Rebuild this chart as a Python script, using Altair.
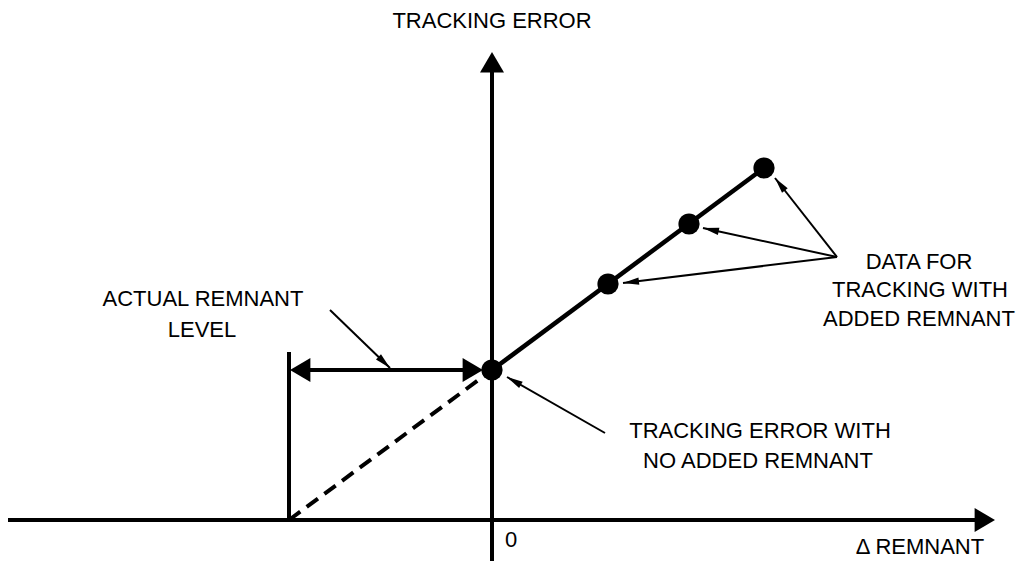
import math
import altair as alt
import pandas as pd

# ---- coordinate frame (Δ remnant on x, tracking error on y; schematic units)
X_DOMAIN = [-4.84, 5.32]
Y_DOMAIN = [-0.41, 5.12]

# ---- data points: no added remnant (first) + tracking with added remnant
pt_x = [0.0, 1.16, 1.97, 2.72]
pt_y = [1.50, 2.36, 2.96, 3.52]

# ---- dashed extrapolation down to the actual remnant level
dash_x = [-2.03, 0.0]
dash_y = [0.0, 1.50]

# ---- vertical marker at actual remnant level
marker_x = [-2.03]
marker_y0 = [0.0]
marker_y1 = [1.68]

# ---- double-headed arrow (actual remnant level span)
darrow_y = [1.50]
darrow_x0 = [-1.97]
darrow_x1 = [-0.14]

# ---- axes (shafts)
xaxis_x0, xaxis_x1, xaxis_y = [-4.84], [4.86], [0.0]
yaxis_y0, yaxis_y1, yaxis_x = [-0.43], [4.49], [0.0]

# ---- big arrowheads: x-axis, y-axis, double arrow left, double arrow right
head_x = [5.03, 0.0, -2.02, -0.09]
head_y = [0.0, 4.68, 1.50, 1.50]
head_angle = [0, 270, 180, 0]

# ---- annotation pointers (start -> tip)
ptr_sx = [-1.62, 1.13, 3.45, 3.45, 3.45]
ptr_sy = [2.10, 0.87, 2.63, 2.63, 2.63]
ptr_tx = [-1.02, 0.15, 2.83, 2.11, 1.31]
ptr_ty = [1.52, 1.43, 3.42, 2.92, 2.37]

# ---- labels
label_text = ["TRACKING ERROR", "0", "Δ REMNANT", "ACTUAL REMNANT", "LEVEL",
              "TRACKING ERROR WITH", "NO ADDED REMNANT",
              "DATA FOR", "TRACKING WITH", "ADDED REMNANT"]
label_x = [0.0, 0.19, 4.28, -2.89, -2.90, 2.68, 2.66, 4.27, 4.28, 4.27]
label_y = [4.99, -0.20, -0.27, 2.21, 1.90, 0.89, 0.59, 2.58, 2.30, 2.01]

FONT = "Liberation Sans"
BIG_HEAD = "M0,0L-1.7,-1L-1.7,1Z"
SMALL_HEAD = "M0,0L-2,-0.45L-2,0.45Z"

xs = alt.Scale(domain=X_DOMAIN, nice=False, zero=False)
ys = alt.Scale(domain=Y_DOMAIN, nice=False, zero=False)


def X(f="x"):
    return alt.X(f"{f}:Q", scale=xs, axis=None)


def Y(f="y"):
    return alt.Y(f"{f}:Q", scale=ys, axis=None)


def rule(df, width, dash=None):
    kw = dict(color="black", strokeWidth=width)
    if dash:
        kw["strokeDash"] = dash
    return alt.Chart(df).mark_rule(**kw).encode(
        x=X("x"), y=Y("y"), x2="x2:Q", y2="y2:Q")


axes_df = pd.DataFrame({
    "x": xaxis_x0 + yaxis_x,
    "x2": xaxis_x1 + yaxis_x,
    "y": xaxis_y + yaxis_y0,
    "y2": xaxis_y + yaxis_y1,
})
main_df = pd.DataFrame({"x": [pt_x[0]], "x2": [pt_x[-1]], "y": [pt_y[0]], "y2": [pt_y[-1]]})
dash_df = pd.DataFrame({"x": [dash_x[0]], "x2": [dash_x[1]], "y": [dash_y[0]], "y2": [dash_y[1]]})
marker_df = pd.DataFrame({"x": marker_x, "x2": marker_x, "y": marker_y0, "y2": marker_y1})
darrow_df = pd.DataFrame({"x": darrow_x0, "x2": darrow_x1, "y": darrow_y, "y2": darrow_y})
ptr_df = pd.DataFrame({"x": ptr_sx, "x2": ptr_tx, "y": ptr_sy, "y2": ptr_ty})

# pointer head orientation derived from pointer direction (equal px per unit on both axes)
ptr_angle = [math.degrees(math.atan2(-(ty - sy), tx - sx)) % 360
             for sx, sy, tx, ty in zip(ptr_sx, ptr_sy, ptr_tx, ptr_ty)]
ptr_head_df = pd.DataFrame({"x": ptr_tx, "y": ptr_ty, "angle": ptr_angle})
head_df = pd.DataFrame({"x": head_x, "y": head_y, "angle": head_angle})
pts_df = pd.DataFrame({"x": pt_x, "y": pt_y})
lab_df = pd.DataFrame({"x": label_x, "y": label_y, "t": label_text})

layers = [
    rule(axes_df, 4),
    rule(main_df, 4.5),
    rule(dash_df, 4, [14, 8]),
    rule(marker_df, 4),
    rule(darrow_df, 4),
    rule(ptr_df, 2),
    alt.Chart(pts_df).mark_circle(size=450, color="black", opacity=1).encode(x=X(), y=Y()),
    alt.Chart(head_df).mark_point(shape=BIG_HEAD, size=576, filled=True, fill="black",
                                  strokeWidth=0, opacity=1).encode(
        x=X(), y=Y(), angle=alt.Angle("angle:Q", scale=None)),
    alt.Chart(ptr_head_df).mark_point(shape=SMALL_HEAD, size=256, filled=True, fill="black",
                                      strokeWidth=0, opacity=1).encode(
        x=X(), y=Y(), angle=alt.Angle("angle:Q", scale=None)),
    alt.Chart(lab_df).mark_text(font=FONT, fontSize=22, color="black",
                                align="center", baseline="middle").encode(
        x=X(), y=Y(), text="t:N"),
]

chart = alt.layer(*layers).properties(
    width=1016, height=553,
    autosize=alt.AutoSizeParams(type="none"),
    padding=0,
    background="white",
).configure_view(stroke=None)

chart.save("out.html", embed_options={"renderer": "svg", "actions": False})
